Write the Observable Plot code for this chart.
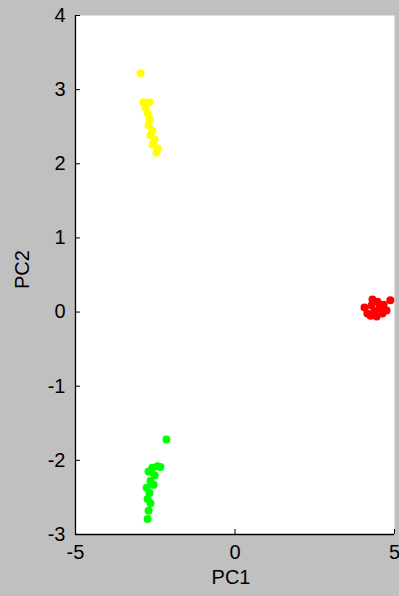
<!DOCTYPE html>
<html>
<head>
<meta charset="utf-8">
<script src="https://cdn.jsdelivr.net/npm/d3@7"></script>
<script src="https://cdn.jsdelivr.net/npm/@observablehq/plot@0.6"></script>
<style>
  html, body { margin: 0; padding: 0; background: #c0c0c0; }
  #chart svg { display: block; }
</style>
</head>
<body>
<div id="chart"></div>
<script>
// Cluster A (yellow)
const yellowPC1 = [-2.96, -2.87, -2.68, -2.81, -2.74, -2.68, -2.71, -2.59, -2.65, -2.52, -2.59, -2.43, -2.46];
const yellowPC2 = [3.22, 2.83, 2.83, 2.76, 2.68, 2.60, 2.52, 2.45, 2.38, 2.33, 2.26, 2.21, 2.15];
// Cluster B (green)
const greenPC1 = [-2.15, -2.43, -2.59, -2.34, -2.71, -2.52, -2.65, -2.55, -2.77, -2.68, -2.74, -2.65, -2.71, -2.74];
const greenPC2 = [-1.72, -2.08, -2.10, -2.09, -2.15, -2.20, -2.28, -2.33, -2.37, -2.44, -2.52, -2.58, -2.68, -2.79];
// Cluster C (red)
const redPC1 = [4.06, 4.15, 4.28, 4.37, 4.47, 4.53, 4.66, 4.75, 4.87, 4.25, 4.44, 4.62, 4.31];
const redPC2 = [0.06, -0.02, 0.09, 0.01, 0.14, 0.05, 0.10, 0.02, 0.16, -0.05, -0.06, -0.02, 0.17];

const groups = ["A", "B", "C"];
const groupColors = ["#ffff00", "#00ff00", "#ff0000"];
const xTicks = [-5, 0, 5];
const yTicks = [-3, -2, -1, 0, 1, 2, 3, 4];
const xLabel = "PC1";
const yLabel = "PC2";

const mk = (xs, ys, group) => xs.map((x, i) => ({pc1: x, pc2: ys[i], group}));
const points = [
  ...mk(yellowPC1, yellowPC2, "A"),
  ...mk(greenPC1, greenPC2, "B"),
  ...mk(redPC1, redPC2, "C")
];

const W = 399, H = 596, ML = 75, MR = 5, MT = 15, MB = 62;
const plotW = W - ML - MR, plotH = H - MT - MB, tickLen = 5;
const font = "'Liberation Sans', Arial, sans-serif";

const chart = Plot.plot({
  width: W,
  height: H,
  marginLeft: ML,
  marginRight: MR,
  marginTop: MT,
  marginBottom: MB,
  style: {background: "#c0c0c0", fontFamily: font, fontSize: "20px", color: "#000"},
  x: {domain: [-5, 5]},
  y: {domain: [-3, 4]},
  color: {type: "ordinal", domain: groups, range: groupColors},
  marks: [
    Plot.frame({fill: "white", stroke: null}),
    Plot.dot(points, {x: "pc1", y: "pc2", fill: "group", r: 4, stroke: null}),
    Plot.tickX(xTicks, {x: d => d, stroke: "#000", insetTop: plotH - tickLen}),
    Plot.tickY(yTicks, {y: d => d, stroke: "#000", insetRight: plotW - tickLen}),
    Plot.ruleX([-5], {stroke: "#000", strokeWidth: 1.3}),
    Plot.ruleY([-3], {stroke: "#000", strokeWidth: 1.3}),
    Plot.axisX({ticks: xTicks, tickSize: 0, tickPadding: 10, tickFormat: d => String(d), label: null, fontSize: 20}),
    Plot.axisY({ticks: yTicks, tickSize: 0, tickPadding: 10, tickFormat: d => String(d), label: null, fontSize: 20}),
    Plot.text([xLabel], {frameAnchor: "bottom", dy: 49, fontSize: 20, dx: -4}),
    Plot.text([yLabel], {frameAnchor: "left", dx: -53, dy: 14, rotate: -90, fontSize: 20})
  ]
});
document.getElementById("chart").appendChild(chart);
</script>
</body>
</html>
